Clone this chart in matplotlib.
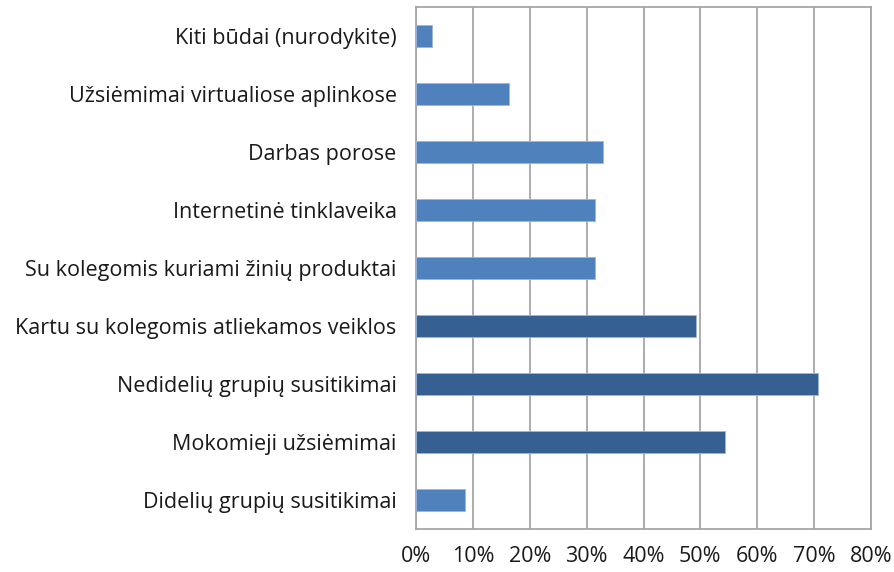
import matplotlib
matplotlib.use('Agg')
import matplotlib.pyplot as plt
import numpy as np

categories = [
    'Didelių grupių susitikimai',
    'Mokomieji užsiėmimai',
    'Nedidelių grupių susitikimai',
    'Kartu su kolegomis atliekamos veiklos',
    'Su kolegomis kuriami žinių produktai',
    'Internetinė tinklaveika',
    'Darbas porose',
    'Užsiėmimai virtualiose aplinkose',
    'Kiti būdai (nurodykite)',
]
values = [8.7, 54.3, 70.7, 49.2, 31.5, 31.5, 32.9, 16.4, 2.9]
highlight = [False, True, True, True, False, False, False, False, False]
xticks = [0, 10, 20, 30, 40, 50, 60, 70, 80]

light = '#4F81BD'
dark = '#376092'
grid_col = '#A6A6A6'

plt.rcParams['font.family'] = ['Open Sans', 'DejaVu Sans']

fig = plt.figure(figsize=(8.95, 5.72), dpi=100)
ax = fig.add_axes([416 / 895, 1 - 529 / 572, (871 - 416) / 895, (529 - 7) / 572])

y = np.arange(len(categories))
colors = [dark if h else light for h in highlight]
ax.barh(y, values, height=0.38, color=colors, edgecolor='#9DB5D8', linewidth=0.6, zorder=3)

ax.set_xlim(0, 80)
ax.set_ylim(-0.5, len(categories) - 0.5)
ax.set_xticks(xticks)
ax.set_xticklabels([f'{t}%' for t in xticks])
ax.set_yticks(y)
ax.set_yticklabels(categories)

ax.grid(True, axis='x', color=grid_col, linewidth=1.3, zorder=1)
for s in ax.spines.values():
    s.set_color(grid_col)
    s.set_linewidth(1.3)

ax.tick_params(axis='both', length=0, labelsize=15.5, colors='#1a1a1a')
ax.tick_params(axis='x', pad=12)
ax.tick_params(axis='y', pad=14)

fig.savefig('out.png', dpi=100)
